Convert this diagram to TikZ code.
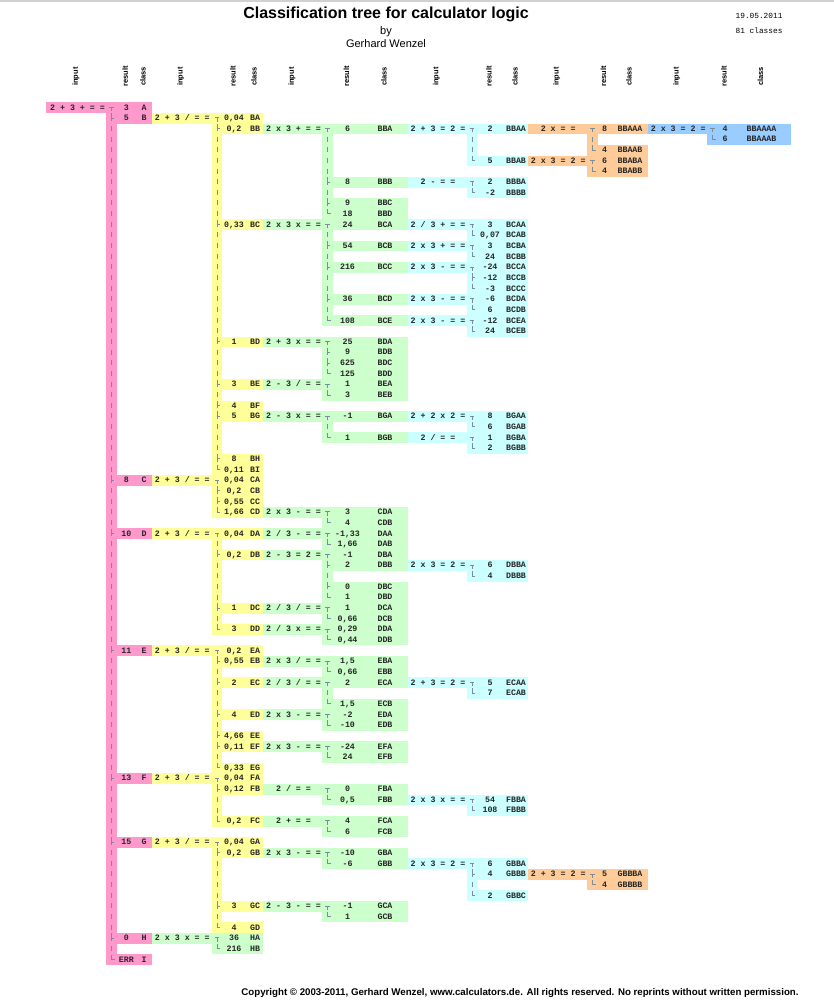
\documentclass[tikz,border=0pt]{standalone}
\usepackage{fontspec}
\setmainfont{Liberation Sans}
\newfontfamily\cellfont{Liberation Mono}
\usetikzlibrary{calc}

\definecolor{lvpink}{HTML}{FF99CC}
\definecolor{lvyellow}{HTML}{FFFF99}
\definecolor{lvgreen}{HTML}{CCFFCC}
\definecolor{lvcyan}{HTML}{CCFFFF}
\definecolor{lvorange}{HTML}{FFCC99}
\definecolor{lvblue}{HTML}{99CCFF}
\definecolor{treegrey}{HTML}{7A8CA0}

% column edges of the six levels (index 1..6)
\def\inL{{0,46,151.7,262.7,407.7,527.7,647.5}}
\def\stL{{0,106,211.7,322.3,466.7,587.3,707}}
\def\stR{{0,117.3,222.3,332.7,477.3,598,718.3}}
\def\resR{{0,151.7,262.7,407.7,527.7,647.5,790.7}}
\def\inC{{0,77.5,182.3,293.5,438,558.2,678.2}}
\def\resC{{0,126.3,234,347.5,490,604.5,725}}
\def\clsC{{0,144,255,385,516,630,761.5}}

\newcommand{\rowtop}{102.3}
\newcommand{\rowh}{10.65}

% one branch: level, colour, first row, last row, input, row/result/class list
\newcommand{\branch}[6]{%
  \pgfmathsetmacro\bIn{\inL[#1]}%
  \pgfmathsetmacro\bSl{\stL[#1]}%
  \pgfmathsetmacro\bSr{\stR[#1]}%
  \pgfmathsetmacro\bRr{\resR[#1]}%
  \pgfmathsetmacro\bIc{\inC[#1]}%
  \pgfmathsetmacro\bRc{\resC[#1]}%
  \pgfmathsetmacro\bCc{\clsC[#1]}%
  \pgfmathsetmacro\bTc{(\bSl+\bSr)/2}%
  \pgfmathsetmacro\bTop{\rowtop+\rowh*#3}%
  \pgfmathsetmacro\bBot{\rowtop+\rowh*(#4+1)}%
  \fill[#2] (\bIn,\bTop) rectangle (\bSl,\bTop+\rowh);
  \fill[#2] (\bSl,\bTop) rectangle (\bSr,\bBot);
  \node[cell] at (\bIc,\bTop+\rowh/2+2.4) {#5};
  \pgfmathtruncatemacro\bA{#3+1}%
  \pgfmathtruncatemacro\bB{#4-1}%
  \ifnum\bA>\bB\else
    \foreach \ri in {\bA,...,\bB} {
      \draw[tree] (\bTc,\rowtop+\rowh*\ri+\rowh/2-3) -- ++(0,5);
    }
  \fi
  \foreach \ri/\rv/\cv in {#6} {
    \pgfmathsetmacro\cY{\rowtop+\rowh*\ri+\rowh/2}
    \fill[#2] (\bSl,\cY-\rowh/2) rectangle (\bRr,\cY+\rowh/2);
    \ifnum\ri=#3
      \draw[tree] (\bTc-2.2,\cY-0.5) -- (\bTc+2.2,\cY-0.5)
                  (\bTc,\cY-0.5) -- (\bTc,\cY+3.5);
    \else\ifnum\ri=#4
      \draw[tree] (\bTc,\cY-5) |- (\bTc+3,\cY-0.3);
    \else
      \draw[tree] (\bTc,\cY-5) -- (\bTc,\cY+2.5)
                  (\bTc,\cY-0.3) -- (\bTc+2.5,\cY-0.3);
    \fi\fi
    \node[cell] (r\cv) at (\bRc,\cY+2.4) {\rv};
    \node[cell] (\cv) at (\bCc,\cY+2.4) {\cv};
  }%
}

\begin{document}
\begin{tikzpicture}[
    x=1pt, y=-1pt,
    cell/.style={font=\cellfont\bfseries\fontsize{8.3}{9}\selectfont,anchor=base,inner sep=0pt,text=black!85},
    tree/.style={draw=treegrey,line width=0.7pt},
    head/.style={font=\bfseries\fontsize{7.5}{9}\selectfont,rotate=90,inner sep=0pt},
]

\path[use as bounding box,fill=white] (0,0) rectangle (834,1005);
\fill[black!18] (0,0) rectangle (834,1.5);

% =====================================================
% Title block
% =====================================================

\node[font=\bfseries\fontsize{16}{18}\selectfont,anchor=base] (title) at (386,18.3)
    {Classification tree for calculator logic};
\node[font=\fontsize{11}{13}\selectfont,anchor=base] (by) at (386,34) {by};
\node[font=\fontsize{11}{13}\selectfont,anchor=base] (author) at (386,47.5) {Gerhard Wenzel};

\node[font=\cellfont\fontsize{7.8}{9}\selectfont,anchor=base east] (date) at (786,18.3) {19.05.2011};
\node[font=\cellfont\fontsize{7.8}{9}\selectfont,anchor=base east] (count) at (786,33.3) {81 classes};

% =====================================================
% Column heads
% =====================================================

\foreach \k in {1,...,6} {
    \pgfmathsetmacro\hx{\inC[\k]-1.5}
    \node[head] (hin\k) at (\hx,76.5) {input};
    \pgfmathsetmacro\hx{\resC[\k]-1}
    \node[head] (hres\k) at (\hx,76.5) {result};
    \pgfmathsetmacro\hx{\clsC[\k]-1}
    \node[head] (hcls\k) at (\hx,76.5) {class};
}

% =====================================================
% Level 1
% =====================================================

\branch{1}{lvpink}{0}{80}{2 + 3 + = =}{0/3/A,1/5/B,35/8/C,40/10/D,51/11/E,63/13/F,69/15/G,78/0/H,80/ERR/I}

% =====================================================
% Level 2
% =====================================================

\branch{2}{lvyellow}{1}{34}{2 + 3 / = =}{1/{0,04}/BA,2/{0,2}/BB,11/{0,33}/BC,22/1/BD,26/3/BE,28/4/BF,29/5/BG,33/8/BH,34/{0,11}/BI}
\branch{2}{lvyellow}{35}{38}{2 + 3 / = =}{35/{0,04}/CA,36/{0,2}/CB,37/{0,55}/CC,38/{1,66}/CD}
\branch{2}{lvyellow}{40}{49}{2 + 3 / = =}{40/{0,04}/DA,42/{0,2}/DB,47/1/DC,49/3/DD}
\branch{2}{lvyellow}{51}{62}{2 + 3 / = =}{51/{0,2}/EA,52/{0,55}/EB,54/2/EC,57/4/ED,59/{4,66}/EE,60/{0,11}/EF,62/{0,33}/EG}
\branch{2}{lvyellow}{63}{67}{2 + 3 / = =}{63/{0,04}/FA,64/{0,12}/FB,67/{0,2}/FC}
\branch{2}{lvyellow}{69}{77}{2 + 3 / = =}{69/{0,04}/GA,70/{0,2}/GB,75/3/GC,77/4/GD}
\branch{2}{lvgreen}{78}{79}{2 x 3 x = =}{78/36/HA,79/216/HB}

% =====================================================
% Level 3
% =====================================================

\branch{3}{lvgreen}{2}{10}{2 x 3 + = =}{2/6/BBA,7/8/BBB,9/9/BBC,10/18/BBD}
\branch{3}{lvgreen}{11}{20}{2 x 3 x = =}{11/24/BCA,13/54/BCB,15/216/BCC,18/36/BCD,20/108/BCE}
\branch{3}{lvgreen}{22}{25}{2 + 3 x = =}{22/25/BDA,23/9/BDB,24/625/BDC,25/125/BDD}
\branch{3}{lvgreen}{26}{27}{2 - 3 / = =}{26/1/BEA,27/3/BEB}
\branch{3}{lvgreen}{29}{31}{2 - 3 x = =}{29/-1/BGA,31/1/BGB}
\branch{3}{lvgreen}{38}{39}{2 x 3 - = =}{38/3/CDA,39/4/CDB}
\branch{3}{lvgreen}{40}{41}{2 / 3 - = =}{40/{-1,33}/DAA,41/{1,66}/DAB}
\branch{3}{lvgreen}{42}{46}{2 - 3 = 2 =}{42/-1/DBA,43/2/DBB,45/0/DBC,46/1/DBD}
\branch{3}{lvgreen}{47}{48}{2 / 3 / = =}{47/1/DCA,48/{0,66}/DCB}
\branch{3}{lvgreen}{49}{50}{2 / 3 x = =}{49/{0,29}/DDA,50/{0,44}/DDB}
\branch{3}{lvgreen}{52}{53}{2 x 3 / = =}{52/{1,5}/EBA,53/{0,66}/EBB}
\branch{3}{lvgreen}{54}{56}{2 / 3 / = =}{54/2/ECA,56/{1,5}/ECB}
\branch{3}{lvgreen}{57}{58}{2 x 3 - = =}{57/-2/EDA,58/-10/EDB}
\branch{3}{lvgreen}{60}{61}{2 x 3 - = =}{60/-24/EFA,61/24/EFB}
\branch{3}{lvgreen}{64}{65}{2 / = =}{64/0/FBA,65/{0,5}/FBB}
\branch{3}{lvgreen}{67}{68}{2 + = =}{67/4/FCA,68/6/FCB}
\branch{3}{lvgreen}{70}{71}{2 x 3 - = =}{70/-10/GBA,71/-6/GBB}
\branch{3}{lvgreen}{75}{76}{2 - 3 - = =}{75/-1/GCA,76/1/GCB}

% =====================================================
% Level 4
% =====================================================

\branch{4}{lvcyan}{2}{5}{2 + 3 = 2 =}{2/2/BBAA,5/5/BBAB}
\branch{4}{lvcyan}{7}{8}{2 - = =}{7/2/BBBA,8/-2/BBBB}
\branch{4}{lvcyan}{11}{12}{2 / 3 + = =}{11/3/BCAA,12/{0,07}/BCAB}
\branch{4}{lvcyan}{13}{14}{2 x 3 + = =}{13/3/BCBA,14/24/BCBB}
\branch{4}{lvcyan}{15}{17}{2 x 3 - = =}{15/-24/BCCA,16/-12/BCCB,17/-3/BCCC}
\branch{4}{lvcyan}{18}{19}{2 x 3 - = =}{18/-6/BCDA,19/6/BCDB}
\branch{4}{lvcyan}{20}{21}{2 x 3 - = =}{20/-12/BCEA,21/24/BCEB}
\branch{4}{lvcyan}{29}{30}{2 + 2 x 2 =}{29/8/BGAA,30/6/BGAB}
\branch{4}{lvcyan}{31}{32}{2 / = =}{31/1/BGBA,32/2/BGBB}
\branch{4}{lvcyan}{43}{44}{2 x 3 = 2 =}{43/6/DBBA,44/4/DBBB}
\branch{4}{lvcyan}{54}{55}{2 + 3 = 2 =}{54/5/ECAA,55/7/ECAB}
\branch{4}{lvcyan}{65}{66}{2 x 3 x = =}{65/54/FBBA,66/108/FBBB}
\branch{4}{lvcyan}{71}{74}{2 x 3 = 2 =}{71/6/GBBA,72/4/GBBB,74/2/GBBC}

% =====================================================
% Level 5 and 6
% =====================================================

\branch{5}{lvorange}{2}{4}{2 x = =}{2/8/BBAAA,4/4/BBAAB}
\branch{5}{lvorange}{5}{6}{2 x 3 = 2 =}{5/6/BBABA,6/4/BBABB}
\branch{5}{lvorange}{72}{73}{2 + 3 = 2 =}{72/5/GBBBA,73/4/GBBBB}

\branch{6}{lvblue}{2}{3}{2 x 3 = 2 =}{2/4/BBAAAA,3/6/BBAAAB}

% =====================================================
% Footer
% =====================================================

\node[font=\bfseries\fontsize{9.7}{11}\selectfont,anchor=base] (copyright) at (520,995)
    {Copyright © 2003-2011, Gerhard Wenzel, www.calculators.de. All rights reserved. No reprints without written permission.};

\end{tikzpicture}
\end{document}
